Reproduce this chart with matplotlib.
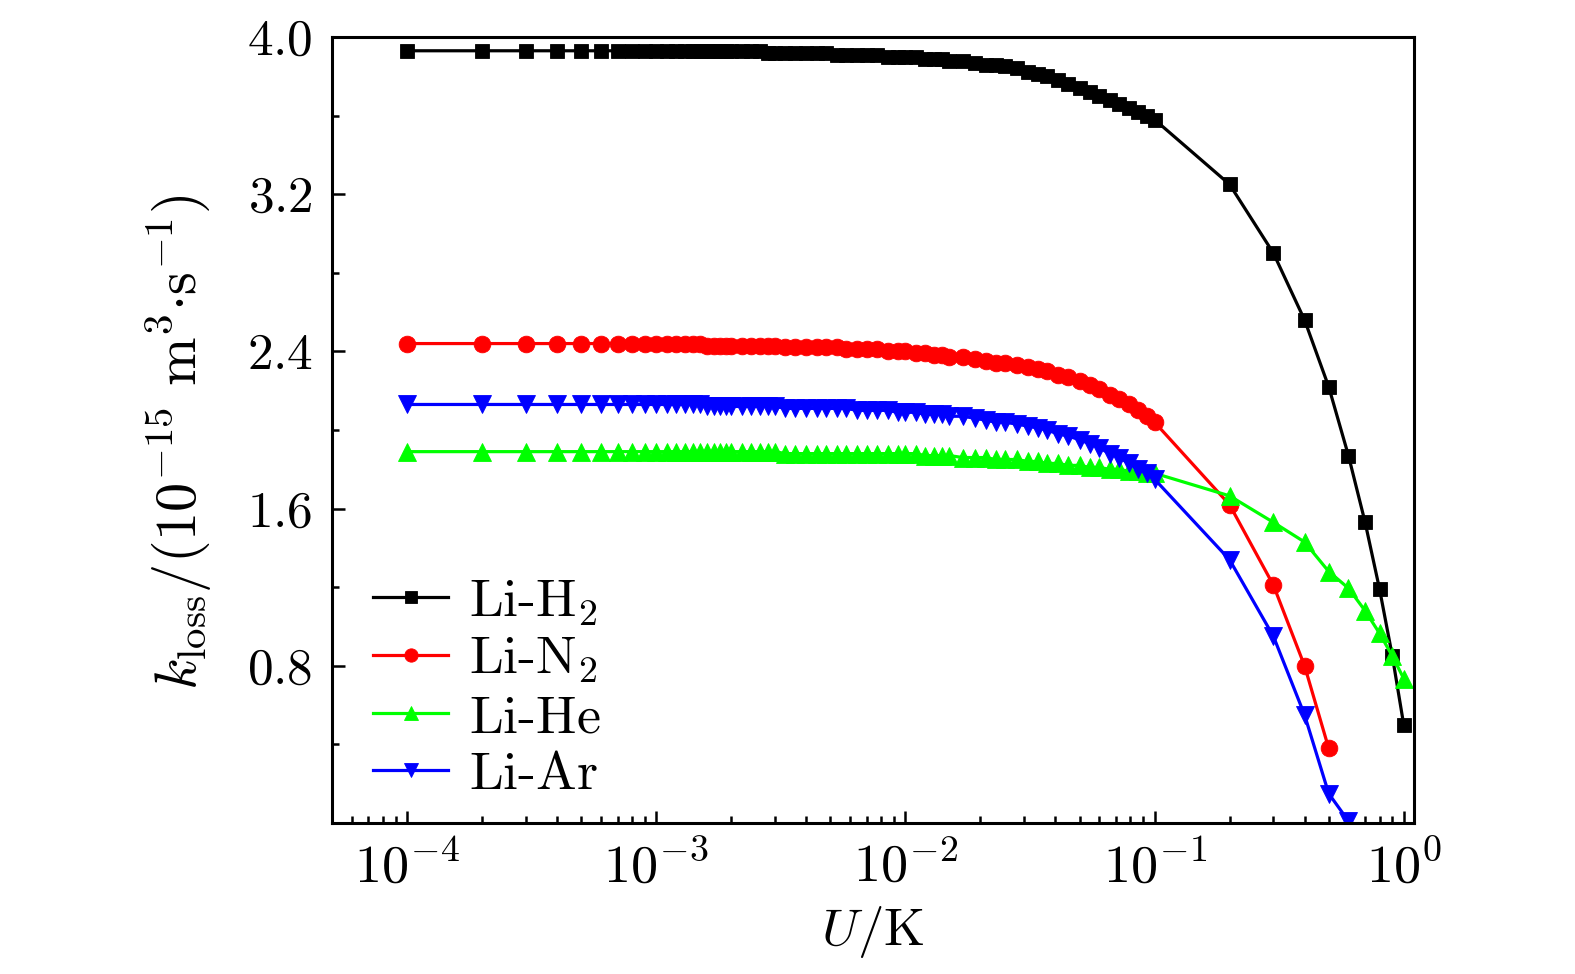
import numpy as np
import matplotlib
matplotlib.use('Agg')
import matplotlib.pyplot as plt
from matplotlib.ticker import FixedLocator, FuncFormatter, LogLocator, NullFormatter

plt.rcParams['mathtext.fontset'] = 'cm'
plt.rcParams['font.family'] = 'serif'
plt.rcParams['font.serif'] = ['cmr10', 'DejaVu Serif']
plt.rcParams['axes.formatter.use_mathtext'] = True
plt.rcParams['axes.unicode_minus'] = False

# U / K grid (shared by all four systems)
U = [0.0001, 0.0002, 0.0003, 0.0004, 0.0005, 0.0006, 0.0007, 0.0008, 0.0009, 0.0010,
     0.0011, 0.0012, 0.0013, 0.0014, 0.0015, 0.0016, 0.0017, 0.0018, 0.0019, 0.0020,
     0.0022, 0.0024, 0.0026, 0.0028, 0.0030, 0.0033, 0.0036, 0.0040, 0.0044, 0.0048,
     0.0053, 0.0058, 0.0064, 0.0070, 0.0077, 0.0085, 0.0093,
     0.010, 0.011, 0.012, 0.013, 0.014, 0.015, 0.017, 0.019, 0.021, 0.023,
     0.025, 0.028, 0.031, 0.034, 0.037, 0.041, 0.045, 0.050, 0.055, 0.060,
     0.066, 0.072, 0.079, 0.086, 0.093,
     0.1, 0.2, 0.3, 0.4, 0.5, 0.6, 0.7, 0.8, 0.9, 1.0]

# k_loss in 1e-15 m^3/s
k_h2 = [3.93, 3.93, 3.93, 3.93, 3.93, 3.93, 3.93, 3.93, 3.93, 3.93,
        3.93, 3.93, 3.93, 3.93, 3.93, 3.93, 3.93, 3.93, 3.93, 3.93,
        3.93, 3.93, 3.93, 3.92, 3.92, 3.92, 3.92, 3.92, 3.92, 3.92,
        3.91, 3.91, 3.91, 3.91, 3.91, 3.90, 3.90,
        3.90, 3.90, 3.89, 3.89, 3.89, 3.88, 3.88, 3.87, 3.86, 3.86,
        3.85, 3.84, 3.82, 3.81, 3.80, 3.78, 3.76, 3.74, 3.72, 3.70,
        3.68, 3.66, 3.64, 3.62, 3.60,
        3.58, 3.25, 2.90, 2.56, 2.22, 1.87, 1.53, 1.19, 0.85, 0.50]

k_n2 = [2.44, 2.44, 2.44, 2.44, 2.44, 2.44, 2.44, 2.44, 2.44, 2.44,
        2.44, 2.44, 2.44, 2.44, 2.44, 2.43, 2.43, 2.43, 2.43, 2.43,
        2.43, 2.43, 2.43, 2.43, 2.43, 2.42, 2.42, 2.42, 2.42, 2.42,
        2.42, 2.41, 2.41, 2.41, 2.41, 2.40, 2.40,
        2.40, 2.39, 2.39, 2.38, 2.38, 2.37, 2.37, 2.36, 2.35, 2.34,
        2.34, 2.33, 2.32, 2.31, 2.30, 2.28, 2.27, 2.25, 2.23, 2.21,
        2.18, 2.16, 2.13, 2.10, 2.07,
        2.04, 1.62, 1.21, 0.80, 0.38]

k_he = [1.89, 1.89, 1.89, 1.89, 1.89, 1.89, 1.89, 1.89, 1.89, 1.89,
        1.89, 1.89, 1.89, 1.89, 1.89, 1.89, 1.89, 1.89, 1.89, 1.89,
        1.89, 1.89, 1.89, 1.89, 1.89, 1.88, 1.88, 1.88, 1.88, 1.88,
        1.88, 1.88, 1.88, 1.88, 1.88, 1.88, 1.88,
        1.88, 1.88, 1.87, 1.87, 1.87, 1.87, 1.86, 1.86, 1.86, 1.85,
        1.85, 1.85, 1.84, 1.84, 1.83, 1.83, 1.82, 1.82, 1.81, 1.81,
        1.80, 1.80, 1.79, 1.79, 1.78,
        1.78, 1.665, 1.53, 1.43, 1.28, 1.195, 1.08, 0.965, 0.85, 0.735]

k_ar = [2.13, 2.13, 2.13, 2.13, 2.13, 2.13, 2.13, 2.13, 2.13, 2.13,
        2.13, 2.13, 2.13, 2.13, 2.13, 2.12, 2.12, 2.12, 2.12, 2.12,
        2.12, 2.12, 2.12, 2.12, 2.12, 2.11, 2.11, 2.11, 2.11, 2.11,
        2.11, 2.11, 2.10, 2.10, 2.10, 2.10, 2.09,
        2.09, 2.09, 2.08, 2.08, 2.08, 2.07, 2.07, 2.06, 2.05, 2.04,
        2.04, 2.03, 2.02, 2.01, 2.00, 1.98, 1.97, 1.95, 1.93, 1.91,
        1.88, 1.86, 1.83, 1.80, 1.78,
        1.75, 1.34, 0.95, 0.55, 0.15, 0.01]

series = [
    (k_h2, r'$\mathrm{Li}$-$\mathrm{H}_2$', 'black', 's', 10),
    (k_n2, r'$\mathrm{Li}$-$\mathrm{N}_2$', '#ff0000', 'o', 12),
    (k_he, r'$\mathrm{Li}$-$\mathrm{He}$', '#00ff00', '^', 13),
    (k_ar, r'$\mathrm{Li}$-$\mathrm{Ar}$', '#0000ff', 'v', 13),
]

fig = plt.figure(figsize=(15.75, 9.74), dpi=100)
ax = fig.add_axes([0.2108, 0.155, 0.687, 0.807])

for k, lab, col, mk, ms in series:
    ax.plot(U[:len(k)], k, color=col, lw=2.3, marker=mk, ms=ms, mew=0.6,
            mec=col, mfc=col, label=lab)

ax.set_xscale('log')
ax.set_xlim(5e-5, 1.1)
ax.set_ylim(0, 4.0)

ax.xaxis.set_major_locator(LogLocator(base=10, numticks=10))
ax.xaxis.set_minor_locator(LogLocator(base=10, subs=np.arange(2, 10), numticks=20))
ax.xaxis.set_major_formatter(FuncFormatter(lambda v, p: r'$10^{%d}$' % round(np.log10(v))))
ax.xaxis.set_minor_formatter(NullFormatter())

ax.yaxis.set_major_locator(FixedLocator([0.8, 1.6, 2.4, 3.2, 4.0]))
ax.yaxis.set_minor_locator(FixedLocator([0.4, 1.2, 2.0, 2.8, 3.6]))
ax.yaxis.set_major_formatter(FuncFormatter(lambda v, p: r'$%.1f$' % v))

for s in ax.spines.values():
    s.set_linewidth(2.2)
ax.tick_params(which='major', direction='in', length=9, width=1.8)
ax.tick_params(which='minor', direction='in', length=5, width=1.8)
ax.tick_params(axis='x', which='major', labelsize=39, pad=13)
ax.tick_params(axis='y', which='major', labelsize=37, pad=14)
ax.tick_params(top=False, right=False, which='both')

ax.set_xlabel(r'$U/\mathrm{K}$', fontsize=38, labelpad=8)
ax.set_ylabel(r'$k_{\mathrm{loss}}/(10^{-15}\ \mathrm{m}^3{\cdot}\mathrm{s}^{-1})$',
              fontsize=42)
ax.yaxis.set_label_coords(-0.109, 0.485)

ax.legend(loc='lower left', bbox_to_anchor=(0.015, 0.0), frameon=False,
          fontsize=39, handlelength=1.4, handletextpad=0.38, labelspacing=0.16,
          borderaxespad=0.05, markerscale=0.8)

fig.savefig('out.png', dpi=100)
